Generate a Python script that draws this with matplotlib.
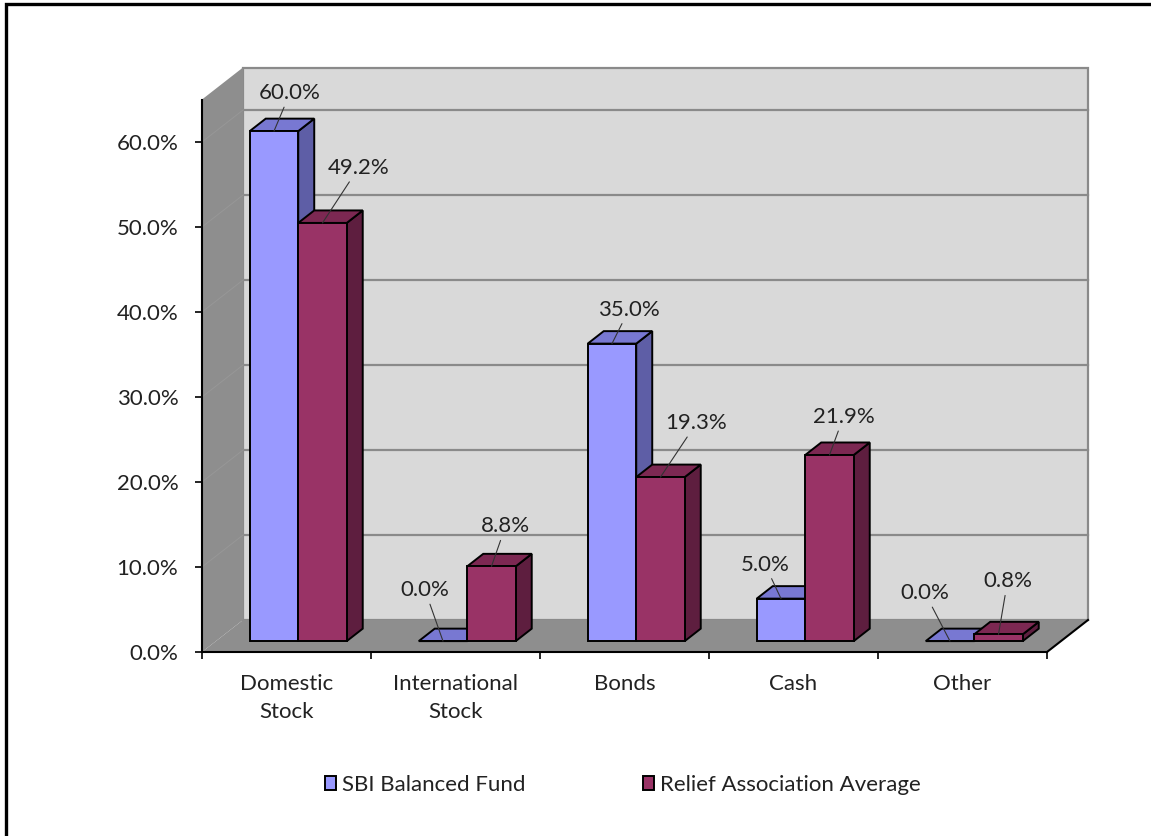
import matplotlib
matplotlib.use("Agg")
import matplotlib.pyplot as plt
from matplotlib.patches import Polygon, Rectangle
import numpy as np

plt.rcParams["font.family"] = ["Lato", "DejaVu Sans"]

# --- data ---
categories = ["Domestic\nStock", "International\nStock", "Bonds", "Cash", "Other"]
sbi = [60.0, 0.0, 35.0, 5.0, 0.0]
relief = [49.2, 8.8, 19.3, 21.9, 0.8]
series_names = ["SBI Balanced Fund", "Relief Association Average"]
yticks = [0, 10, 20, 30, 40, 50, 60]
YMAX = 65

# label offsets from the bar's top-front centre, in pixels (style only)
lab_off = [[(16, 38), (36, 55)], [(-18, 51), (14, 40)], [(17, 34), (36, 54)],
           [(-16, 34), (14, 38)], [(-25, 48), (9, 53)]]

# --- geometry (category units on x, percent on y) ---
W, H = 1151, 836
PX_X, PX_Y = 169.0, 8.5          # pixels per category / per percent
X0, Y0 = 202, 652                # pixel position of origin
DX, DY = 41 / PX_X, 32 / PX_Y    # full depth offset
D0, D1 = 0.34, 0.73              # bar depth span (fraction of floor depth)
GAP, BW = 0.2, 0.287             # gap before first bar, bar width
FS = 16

faces = {0: ("#9999FF", "#7878D2", "#5E5EA6"),
         1: ("#993366", "#7C2852", "#5E1E3F")}
WALL, BACK, GRID = "#8E8E8E", "#D9D9D9", "#8A8A8A"

fig = plt.figure(figsize=(W / 100, H / 100), dpi=100)
ax = fig.add_axes([0, 0, 1, 1])
ax.set_xlim(-X0 / PX_X, (W - X0) / PX_X)
ax.set_ylim(-(H - Y0) / PX_Y, Y0 / PX_Y)
ax.set_facecolor("none")
n = len(categories)

# walls and floor
ax.add_patch(Polygon([(DX, DY), (n + DX, DY), (n + DX, YMAX + DY), (DX, YMAX + DY)],
                     closed=True, fc=BACK, ec=GRID, lw=1.6, zorder=1))
ax.add_patch(Polygon([(0, 0), (DX, DY), (DX, YMAX + DY), (0, YMAX)],
                     closed=True, fc=WALL, ec="none", zorder=1))
ax.add_patch(Polygon([(0, 0), (n, 0), (n + DX, DY), (DX, DY)],
                     closed=True, fc=WALL, ec="none", zorder=1))
for v in yticks[1:]:
    ax.plot([DX, n + DX], [v + DY, v + DY], color=GRID, lw=1.6, zorder=2)
    ax.plot([0, DX], [v, v + DY], color="#979797", lw=0.7, zorder=2)
ax.plot([n, n + DX], [0, DY], color="black", lw=1.5, zorder=2)

# bars
for i in range(n):
    for s, vals in enumerate([sbi, relief]):
        v = vals[i]
        x0 = i + GAP + s * BW
        x1 = x0 + BW
        front, top, side = faces[s]
        z = 3 + i * 2 + s
        ax.add_patch(Polygon([(x1 + D0 * DX, D0 * DY), (x1 + D0 * DX, v + D0 * DY),
                              (x1 + D1 * DX, v + D1 * DY), (x1 + D1 * DX, D1 * DY)],
                             closed=True, fc=side, ec="black", lw=1.4, zorder=z))
        ax.add_patch(Polygon([(x0 + D0 * DX, v + D0 * DY), (x1 + D0 * DX, v + D0 * DY),
                              (x1 + D1 * DX, v + D1 * DY), (x0 + D1 * DX, v + D1 * DY)],
                             closed=True, fc=top, ec="black", lw=1.4, zorder=z))
        ax.bar(x0 + D0 * DX, v, width=BW, bottom=D0 * DY, align="edge",
               color=front, edgecolor="black", linewidth=1.4, zorder=z,
               label=series_names[s] if i == 0 else None)
        ox, oy = lab_off[i][s]
        ax.annotate(f"{v:.1f}%", xy=(x0 + BW / 2 + D0 * DX, v + D0 * DY),
                    xytext=(ox * 0.72, oy * 0.72), textcoords="offset points",
                    ha="center", va="center", fontsize=FS, color="#222222",
                    arrowprops=dict(arrowstyle="-", color="#333333", lw=0.8,
                                    shrinkA=1, shrinkB=0), zorder=30)

# axes
for side in ["top", "right"]:
    ax.spines[side].set_visible(False)
ax.spines["left"].set_position(("data", 0))
ax.spines["left"].set_bounds(0, YMAX)
ax.spines["bottom"].set_position(("data", 0))
ax.spines["bottom"].set_bounds(0, n)
for sp in ["left", "bottom"]:
    ax.spines[sp].set_linewidth(1.5)
    ax.spines[sp].set_zorder(25)
ax.set_yticks(yticks)
ax.set_yticklabels([f"{v:.1f}%" for v in yticks])
ax.set_xticks(range(n + 1))
ax.set_xticklabels([])
ax.set_xticks(np.arange(n) + 0.5, minor=True)
ax.set_xticklabels(categories, minor=True, linespacing=1.5)
ax.tick_params(axis="y", direction="out", length=5, width=1.2, pad=12,
               labelsize=FS, labelcolor="#222222")
ax.tick_params(axis="x", which="major", direction="out", length=5, width=1.2)
ax.tick_params(axis="x", which="minor", length=0, pad=15.5, labelsize=FS,
               labelcolor="#222222")
for t in ax.xaxis.get_minor_ticks():
    t.label1.set_va("top")

leg = ax.legend(loc="center", bbox_to_anchor=(623 / W, 1 - 785 / H), ncol=2,
                frameon=False, fontsize=FS, handlelength=0.5, handleheight=0.55,
                handletextpad=0.25, columnspacing=5.3, labelcolor="#222222",
                borderpad=0, borderaxespad=0)

# outer frame
fig.add_artist(Rectangle((5.5 / W, -0.1), 2, 1.1 - 4.5 / H, transform=fig.transFigure,
                         fill=False, ec="black", lw=2.4))

fig.savefig("out.png", dpi=100)
